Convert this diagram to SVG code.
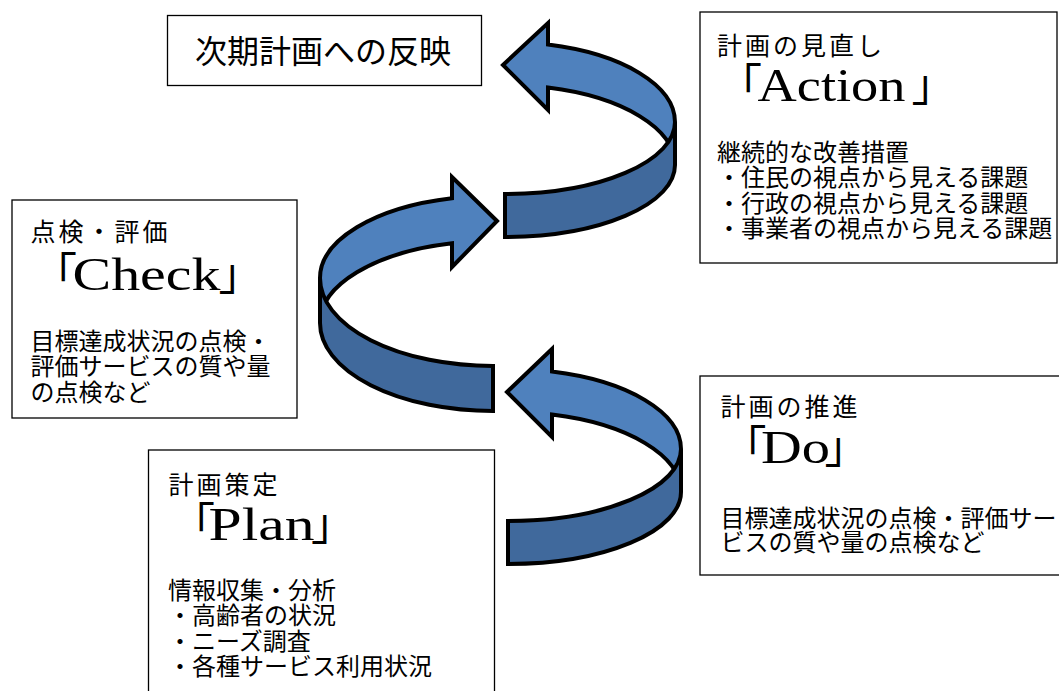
<svg xmlns="http://www.w3.org/2000/svg" width="1059" height="691" viewBox="0 0 1059 691">
<style>
.box{fill:#fff;stroke:#000;stroke-width:1.3}
.jp{font-family:"Noto Sans CJK JP","Noto Sans CJK SC",sans-serif;fill:#000}
.t{font-size:25px;letter-spacing:3px}
.b{font-size:24px}
.big{font-size:44px}
.lat{font-family:"Liberation Serif",serif;font-size:46px}
.light{fill:#4F81BD;stroke:#000;stroke-width:4;stroke-linejoin:miter}
.dark{fill:#40699C;stroke:#000;stroke-width:4;stroke-linejoin:miter}
</style>
<rect width="1059" height="691" fill="#fff"/>
<g id="reflect">
<rect class="box" x="167.5" y="15.5" width="314" height="70"/>
<text class="jp" x="195" y="62.7" font-size="32">次期計画への反映</text>
</g>
<g id="action">
<rect class="box" x="700" y="12" width="357" height="251"/>
<text class="jp t" x="717" y="54.7">計画の見直し</text>
<text class="jp big" y="101.3"><tspan x="718">「</tspan><tspan class="lat" x="757.5" textLength="148" lengthAdjust="spacingAndGlyphs">Action</tspan><tspan x="911.5">」</tspan></text>
<text class="jp b">
<tspan x="717" y="161">継続的な改善措置</tspan>
<tspan x="717" y="186.3">・住民の視点から見える課題</tspan>
<tspan x="717" y="211.6">・行政の視点から見える課題</tspan>
<tspan x="717" y="236.9">・事業者の視点から見える課題</tspan>
</text>
</g>
<g id="check">
<rect class="box" x="12" y="200" width="285" height="218"/>
<text class="jp t" x="30.5" y="240.5">点検・評価</text>
<text class="jp big" y="290"><tspan x="33">「</tspan><tspan class="lat" x="72.5" textLength="148" lengthAdjust="spacingAndGlyphs">Check</tspan><tspan x="218.5">」</tspan></text>
<text class="jp b">
<tspan x="30.5" y="350">目標達成状況の点検・</tspan>
<tspan x="30.5" y="375.3">評価サービスの質や量</tspan>
<tspan x="30.5" y="400.6">の点検など</tspan>
</text>
</g>
<g id="plan">
<rect class="box" x="148.5" y="450" width="346" height="260"/>
<text class="jp t" x="168.5" y="494">計画策定</text>
<text class="jp big" y="540"><tspan x="171">「</tspan><tspan class="lat" x="208.5" textLength="106" lengthAdjust="spacingAndGlyphs">Plan</tspan><tspan x="311">」</tspan></text>
<text class="jp b">
<tspan x="168" y="599">情報収集・分析</tspan>
<tspan x="168" y="624.3">・高齢者の状況</tspan>
<tspan x="168" y="649.6">・ニーズ調査</tspan>
<tspan x="168" y="674.9">・各種サービス利用状況</tspan>
</text>
</g>
<g id="do">
<rect class="box" x="700" y="376" width="365" height="199"/>
<text class="jp t" x="720.5" y="416.3">計画の推進</text>
<text class="jp big" y="463.3"><tspan x="722.5">「</tspan><tspan class="lat" x="761" textLength="69" lengthAdjust="spacingAndGlyphs">Do</tspan><tspan x="824.5">」</tspan></text>
<text class="jp b">
<tspan x="720.5" y="526.5">目標達成状況の点検・評価サー</tspan>
<tspan x="720.5" y="551.3">ビスの質や量の点検など</tspan>
</text>
</g>
<g id="connectors">
<g id="arrow-action-reflect">
<path class="light" d="M503,65 L548,23 L548,44.6 A170,80 0 0 1 675,122 L675,165 A170,80 0 0 0 548,87.6 L548,110 Z"/>
<path class="dark" d="M675,122 L675,165 A170,72 0 0 1 505,237 L505,194 A170,72 0 0 0 675,122 Z"/>
</g>
<g id="arrow-check-action">
<path class="light" d="M497,221 L452,177 L452,198.3 A173,82 0 0 0 320,278 L320,323 A173,82 0 0 1 452,243.3 L452,267 Z"/>
<path class="dark" d="M320,278 L320,323 A173,88 0 0 0 493,411 L493,366 A173,88 0 0 1 320,278 Z"/>
</g>
<g id="arrow-do-check">
<path class="light" d="M507,392 L552,349 L552,371.6 A173,80 0 0 1 681,449 L681,492 A173,80 0 0 0 552,414.6 L552,437 Z"/>
<path class="dark" d="M681,449 L681,492 A173,72 0 0 1 508,564 L508,521 A173,72 0 0 0 681,449 Z"/>
</g>
</g>
</svg>
